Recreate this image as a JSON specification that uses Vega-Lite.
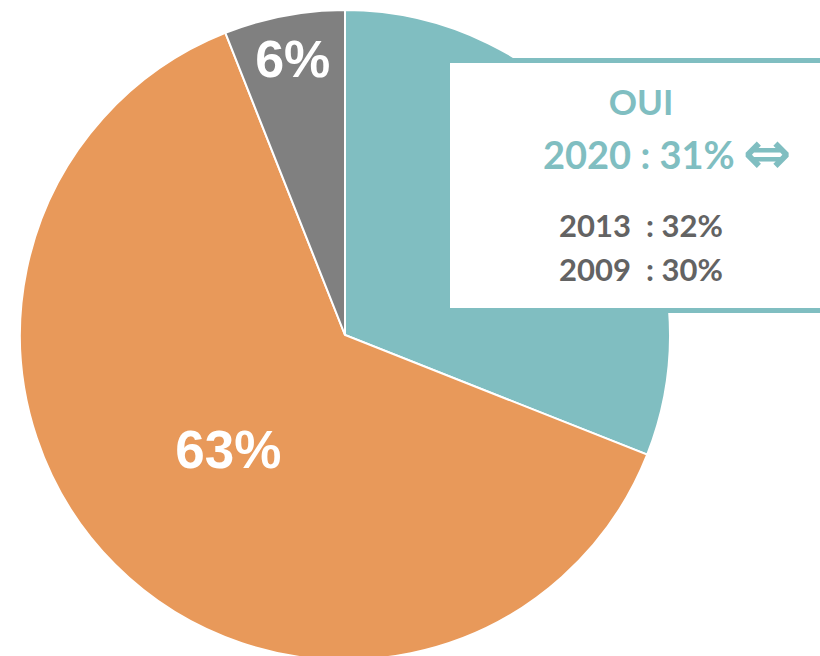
{
  "$schema": "https://vega.github.io/schema/vega-lite/v6.json",
  "width": 690,
  "height": 670,
  "autosize": "none",
  "padding": {"left": 0, "top": 0, "right": 130, "bottom": 0},
  "background": "white",
  "config": {"view": {"stroke": null}},
  "datasets": {
    "pie": [
      {"answer": "OUI", "pct": 31, "order": 1, "label": "31%"},
      {"answer": "NON", "pct": 63, "order": 2, "label": "63%"},
      {"answer": "NSP", "pct": 6, "order": 3, "label": "6%"}
    ],
    "history": [
      {"year": 2020, "pct": 31, "label": "2020 : 31%"},
      {"year": 2013, "pct": 32, "label": "2013\u00a0\u00a0: 32%"},
      {"year": 2009, "pct": 30, "label": "2009\u00a0\u00a0: 30%"}
    ]
  },
  "layer": [
    {
      "data": {"name": "pie"},
      "mark": {"type": "arc", "outerRadius": 325, "stroke": "white", "strokeWidth": 2},
      "encoding": {
        "theta": {"field": "pct", "type": "quantitative", "stack": true},
        "order": {"field": "order", "type": "quantitative"},
        "color": {
          "field": "answer", "type": "nominal",
          "scale": {"domain": ["OUI", "NON", "NSP"], "range": ["#80BEC1", "#E8995A", "#808080"]},
          "legend": null
        }
      }
    },
    {
      "data": {"name": "pie"},
      "mark": {"type": "text", "radius": 165, "font": "Liberation Sans", "fontWeight": "bold", "fontSize": 53, "fill": "white", "align": "center", "baseline": "middle"},
      "encoding": {
        "theta": {"field": "pct", "type": "quantitative", "stack": true},
        "order": {"field": "order", "type": "quantitative"},
        "text": {"condition": {"test": "datum.answer == 'NON'", "field": "label"}, "value": ""}
      }
    },
    {
      "data": {"name": "pie"},
      "mark": {"type": "text", "radius": 279, "font": "Liberation Sans", "fontWeight": "bold", "fontSize": 52, "fill": "white", "align": "center", "baseline": "middle"},
      "encoding": {
        "theta": {"field": "pct", "type": "quantitative", "stack": true},
        "order": {"field": "order", "type": "quantitative"},
        "text": {"condition": {"test": "datum.answer == 'NSP'", "field": "label"}, "value": ""}
      }
    },
    {
      "data": {"values": [{"box": "OUI"}]},
      "mark": {"type": "rect", "x": 447.5, "x2": 840, "y": 60.5, "y2": 310.5, "fill": "white", "stroke": "#80BEC1", "strokeWidth": 5},
      "encoding": {}
    },
    {
      "data": {"values": [{"label": "OUI"}]},
      "mark": {"type": "text", "x": 641, "y": 104, "font": "Lato", "fontWeight": "bold", "fontSize": 35, "fill": "#80BEC1", "align": "center", "baseline": "middle"},
      "encoding": {"text": {"field": "label"}}
    },
    {
      "data": {"name": "history"},
      "transform": [{"filter": "datum.year == 2020"}],
      "mark": {"type": "text", "x": 543, "y": 158, "font": "Lato", "fontWeight": "bold", "fontSize": 38, "fill": "#80BEC1", "align": "left", "baseline": "middle"},
      "encoding": {"text": {"field": "label"}}
    },
    {
      "data": {"values": [{"trend": "\u21d4"}]},
      "mark": {"type": "text", "x": 767, "y": 156, "font": "DejaVu Sans", "fontWeight": "bold", "fontSize": 58, "fill": "#80BEC1", "align": "center", "baseline": "middle"},
      "encoding": {"text": {"field": "trend"}}
    },
    {
      "data": {"name": "history"},
      "transform": [{"filter": "datum.year == 2013"}],
      "mark": {"type": "text", "x": 559, "y": 228, "font": "Lato", "fontWeight": "bold", "fontSize": 31, "fill": "#636363", "align": "left", "baseline": "middle"},
      "encoding": {"text": {"field": "label"}}
    },
    {
      "data": {"name": "history"},
      "transform": [{"filter": "datum.year == 2009"}],
      "mark": {"type": "text", "x": 559, "y": 272, "font": "Lato", "fontWeight": "bold", "fontSize": 31, "fill": "#636363", "align": "left", "baseline": "middle"},
      "encoding": {"text": {"field": "label"}}
    }
  ]
}
